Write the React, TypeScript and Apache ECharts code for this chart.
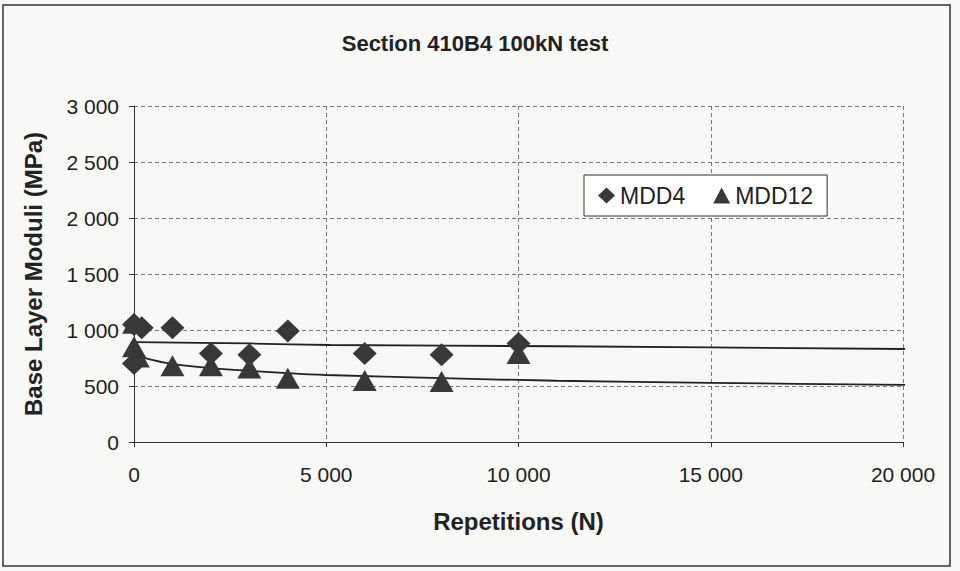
import React, { useEffect, useRef } from "react";
import * as echarts from "echarts";

const titleText = "Section 410B4 100kN test";
const xAxisName = "Repetitions (N)";
const yAxisName = "Base Layer Moduli (MPa)";

// [repetitions, modulus MPa]
const mdd4Points: [number, number][] = [
  [0, 1050], [200, 1020], [0, 700], [1000, 1020], [2000, 790], [3000, 780],
  [4000, 990], [6000, 790], [8000, 780], [10000, 880],
];
const mdd12Points: [number, number][] = [
  [0, 1060], [0, 850], [100, 760], [1000, 680], [2000, 680], [3000, 660],
  [4000, 570], [6000, 550], [8000, 540], [10000, 790],
];
// trend lines
const mdd4Trend: [number, number][] = [
  [50, 892], [3000, 880], [5100, 866], [11000, 855], [20200, 830],
];
const mdd12Trend: [number, number][] = [
  [150, 765], [500, 730], [1000, 695], [2000, 660], [4000, 615], [5000, 598],
  [8000, 570], [11000, 547], [15000, 528], [20200, 510],
];

const fmt = (v: number) => {
  const s = String(Math.round(v));
  return s.replace(/\B(?=(\d{3})+(?!\d))/g, " ");
};

const FONT = "'Liberation Sans', Arial, sans-serif";
const INK = "#333";
const MARK = "#383838";

export default function App() {
  const ref = useRef<HTMLDivElement>(null);
  useEffect(() => {
    if (!ref.current) return;
    const chart = echarts.init(ref.current, null, { renderer: "svg" });
    chart.setOption({
      animation: false,
      backgroundColor: "#f8f8f7",
      textStyle: { fontFamily: FONT },
      title: {
        text: titleText,
        left: 470,
        textAlign: "center",
        top: 27,
        textStyle: { fontFamily: FONT, fontSize: 22, fontWeight: "bold", color: "#222" },
      },
      legend: {
        left: 584,
        top: 175,
        padding: [9, 14, 9, 14],
        itemGap: 28,
        itemWidth: 17,
        itemHeight: 16,
        backgroundColor: "#fff",
        borderColor: INK,
        borderWidth: 1,
        data: [
          { name: "MDD4", icon: "diamond" },
          { name: "MDD12", icon: "triangle" },
        ],
        textStyle: { fontFamily: FONT, fontSize: 23, color: "#222", padding: [2, 0, 0, 0] },
      },
      grid: { left: 134, right: 57, top: 106, bottom: 129 },
      xAxis: {
        type: "value",
        min: 0,
        max: 20000,
        interval: 5000,
        name: xAxisName,
        nameLocation: "middle",
        nameGap: 67,
        nameTextStyle: { fontFamily: FONT, fontSize: 24, fontWeight: "bold", color: "#222" },
        axisLine: { show: true, lineStyle: { color: INK, width: 1 } },
        axisTick: { show: true, length: 5, lineStyle: { color: INK } },
        axisLabel: { fontFamily: FONT, fontSize: 21, color: "#222", margin: 22, formatter: fmt },
        splitLine: { show: true, lineStyle: { color: "#777", type: [4, 3], width: 1 } },
      },
      yAxis: {
        type: "value",
        min: 0,
        max: 3000,
        interval: 500,
        name: yAxisName,
        nameLocation: "middle",
        nameGap: 89,
        nameTextStyle: { fontFamily: FONT, fontSize: 24, fontWeight: "bold", color: "#222" },
        axisLine: { show: true, lineStyle: { color: INK, width: 1 } },
        axisTick: { show: true, length: 5, lineStyle: { color: INK } },
        axisLabel: { fontFamily: FONT, fontSize: 21, color: "#222", margin: 15, formatter: fmt },
        splitLine: { show: true, lineStyle: { color: "#777", type: [4, 3], width: 1 } },
      },
      series: [
        {
          name: "trend4",
          type: "line",
          data: mdd4Trend,
          smooth: 0.3,
          showSymbol: false,
          clip: false,
          z: 1,
          lineStyle: { color: "#222", width: 1.8 },
          silent: true,
        },
        {
          name: "trend12",
          type: "line",
          data: mdd12Trend,
          smooth: 0.3,
          showSymbol: false,
          clip: false,
          z: 1,
          lineStyle: { color: "#222", width: 1.8 },
          silent: true,
        },
        {
          name: "MDD4",
          type: "scatter",
          data: mdd4Points,
          symbol: "diamond",
          symbolSize: [24, 23],
          itemStyle: { color: MARK, opacity: 1 },
          z: 3,
        },
        {
          name: "MDD12",
          type: "scatter",
          data: mdd12Points,
          symbol: "triangle",
          symbolSize: [24, 21],
          itemStyle: { color: MARK, opacity: 1 },
          z: 3,
        },
      ],
      graphic: [
        {
          type: "rect",
          shape: { x: 3, y: 5, width: 947, height: 561 },
          style: { fill: "none", stroke: INK, lineWidth: 1.5 },
          silent: true,
        },
      ],
    });
    return () => chart.dispose();
  }, []);
  return (
    <div
      ref={ref}
      style={{ position: "fixed", left: 0, top: 0, width: 960, height: 571 }}
    />
  );
}
